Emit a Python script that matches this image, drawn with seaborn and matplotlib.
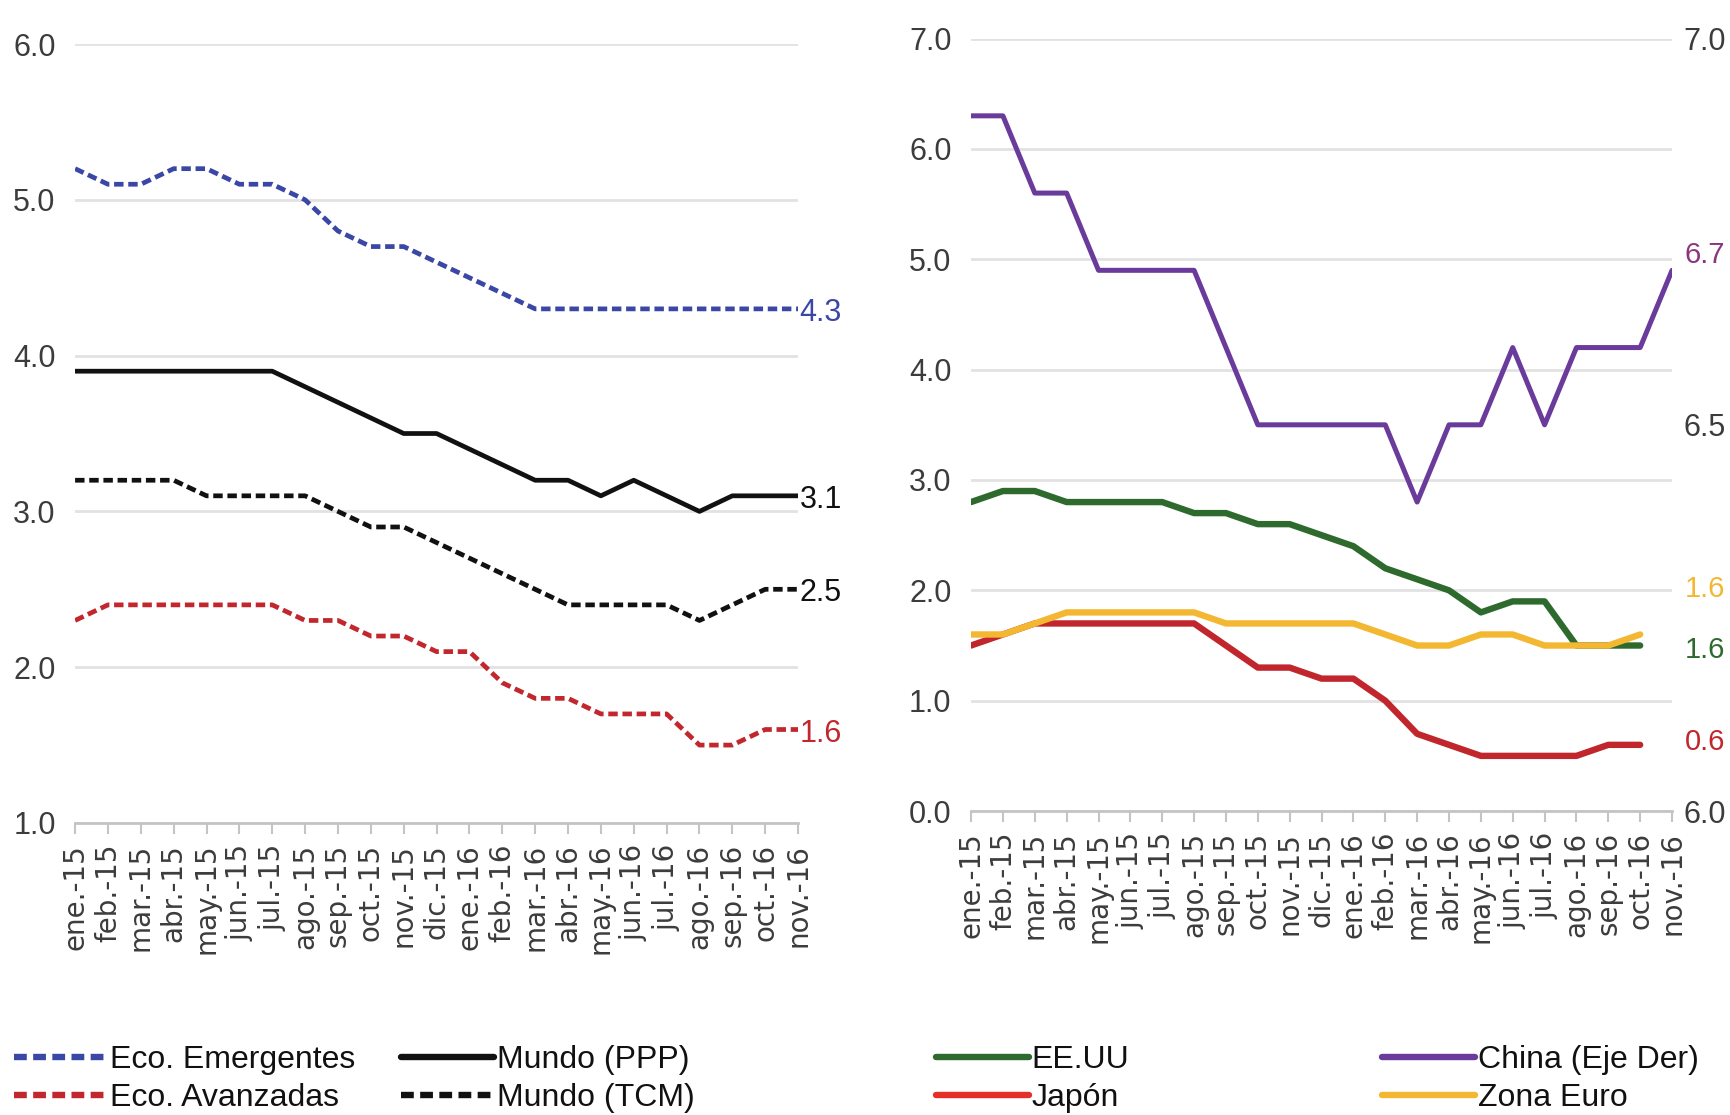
import numpy as np
import matplotlib
matplotlib.use("Agg")
import matplotlib.pyplot as plt
import seaborn as sns
from matplotlib.lines import Line2D

# -------------------- Data --------------------

months = ["ene.-15", "feb.-15", "mar.-15", "abr.-15", "may.-15", "jun.-15",
          "jul.-15", "ago.-15", "sep.-15", "oct.-15", "nov.-15", "dic.-15",
          "ene.-16", "feb.-16", "mar.-16", "abr.-16", "may.-16", "jun.-16",
          "jul.-16", "ago.-16", "sep.-16", "oct.-16", "nov.-16"]

# left panel (23 months)
eco_emergentes = [5.2, 5.1, 5.1, 5.2, 5.2, 5.1, 5.1, 5.0, 4.8, 4.7, 4.7, 4.6,
                  4.5, 4.4, 4.3, 4.3, 4.3, 4.3, 4.3, 4.3, 4.3, 4.3, 4.3]
mundo_ppp = [3.9, 3.9, 3.9, 3.9, 3.9, 3.9, 3.9, 3.8, 3.7, 3.6, 3.5, 3.5,
             3.4, 3.3, 3.2, 3.2, 3.1, 3.2, 3.1, 3.0, 3.1, 3.1, 3.1]
mundo_tcm = [3.2, 3.2, 3.2, 3.2, 3.1, 3.1, 3.1, 3.1, 3.0, 2.9, 2.9, 2.8,
             2.7, 2.6, 2.5, 2.4, 2.4, 2.4, 2.4, 2.3, 2.4, 2.5, 2.5]
eco_avanzadas = [2.3, 2.4, 2.4, 2.4, 2.4, 2.4, 2.4, 2.3, 2.3, 2.2, 2.2, 2.1,
                 2.1, 1.9, 1.8, 1.8, 1.7, 1.7, 1.7, 1.5, 1.5, 1.6, 1.6]

# right panel (EE.UU, Japon, Zona Euro end in oct.-16)
eeuu = [2.8, 2.9, 2.9, 2.8, 2.8, 2.8, 2.8, 2.7, 2.7, 2.6, 2.6, 2.5,
        2.4, 2.2, 2.1, 2.0, 1.8, 1.9, 1.9, 1.5, 1.5, 1.5]
japon = [1.5, 1.6, 1.7, 1.7, 1.7, 1.7, 1.7, 1.7, 1.5, 1.3, 1.3, 1.2,
         1.2, 1.0, 0.7, 0.6, 0.5, 0.5, 0.5, 0.5, 0.6, 0.6]
zona_euro = [1.6, 1.6, 1.7, 1.8, 1.8, 1.8, 1.8, 1.8, 1.7, 1.7, 1.7, 1.7,
             1.7, 1.6, 1.5, 1.5, 1.6, 1.6, 1.5, 1.5, 1.5, 1.6]
# China on the right-hand axis
china = [6.9, 6.9, 6.8, 6.8, 6.7, 6.7, 6.7, 6.7, 6.6, 6.5, 6.5, 6.5,
         6.5, 6.5, 6.4, 6.5, 6.5, 6.6, 6.5, 6.6, 6.6, 6.6, 6.7]

left_end_labels = ["4.3", "3.1", "2.5", "1.6"]
right_end_labels = ["6.7", "1.6", "1.6", "0.6"]

# -------------------- Style --------------------

BLUE = "#3a47a5"
RED_D = "#c1272d"
BLACK = "#111111"
GREEN = "#2e6a2d"
RED = "#c0262b"
YELLOW = "#f4b731"
PURPLE = "#6b3b9c"
PURPLE_TXT = "#8a357f"
TICK_C = "#3c3c3c"
GRID_C = "#e2e2e2"

REGULAR = ["Liberation Sans", "DejaVu Sans"]
DASH = (0, (2.0, 1.0))

sns.set_theme(style="white")
plt.rcParams["font.family"] = REGULAR


def style_axis(ax, ymin, ymax):
    ax.set_xlim(0, len(months) - 1)
    ax.set_ylim(ymin, ymax)
    ticks = np.arange(ymin, ymax + 0.01, 1.0)
    ax.set_yticks(ticks)
    ax.set_yticklabels([f"{v:.1f}" for v in ticks],
                       fontsize=22, color=TICK_C, family=REGULAR)
    ax.set_xticks(range(len(months)))
    ax.set_xticklabels(months, rotation=90, fontsize=20, color=TICK_C,
                       family=["DejaVu Sans"])
    ax.grid(axis="y", color=GRID_C, lw=2)
    ax.grid(axis="x", visible=False)
    for s in ["top", "right", "left"]:
        ax.spines[s].set_visible(False)
    ax.spines["bottom"].set_color("#c4c4c4")
    ax.spines["bottom"].set_linewidth(2)
    ax.tick_params(axis="x", bottom=True, length=8, width=1.5,
                   color="#c4c4c4", pad=7)
    ax.tick_params(axis="y", left=False, right=False, length=0, pad=14)
    ax.set_xlabel("")
    ax.set_ylabel("")


fig = plt.figure(figsize=(17.3, 11.15), dpi=100)
ax_l = fig.add_axes([0.0434, 0.2619, 0.4179, 0.6986])
ax_r = fig.add_axes([0.5613, 0.2726, 0.4052, 0.6928])

# -------------------- Left panel --------------------

x23 = np.arange(len(months))
left_series = [
    (eco_emergentes, BLUE, DASH),
    (mundo_ppp, BLACK, "-"),
    (mundo_tcm, BLACK, DASH),
    (eco_avanzadas, RED_D, DASH),
]
for vals, col, ls in left_series:
    sns.lineplot(x=x23, y=vals, ax=ax_l, color=col, lw=3.4,
                 linestyle=ls, legend=False)
style_axis(ax_l, 1.0, 6.0)

for (vals, col, _), lab in zip(left_series, left_end_labels):
    ax_l.annotate(lab, xy=(x23[-1], vals[-1]), xytext=(1, -3),
                  textcoords="offset points", ha="left", va="center",
                  fontsize=22, color=col, family=REGULAR,
                  annotation_clip=False)

# -------------------- Right panel --------------------

x22 = np.arange(len(eeuu))
sns.lineplot(x=x22, y=eeuu, ax=ax_r, color=GREEN, lw=4.6, legend=False)
sns.lineplot(x=x22, y=japon, ax=ax_r, color=RED, lw=4.6, legend=False)
sns.lineplot(x=x22, y=zona_euro, ax=ax_r, color=YELLOW, lw=4.6, legend=False)

ax_c = ax_r.twinx()
sns.lineplot(x=x23, y=china, ax=ax_c, color=PURPLE, lw=3.6, legend=False)
style_axis(ax_r, 0.0, 7.0)

ax_c.set_ylim(6.0, 7.0)
ax_c.set_yticks([6.0, 6.5, 7.0])
ax_c.set_yticklabels(["6.0", "6.5", "7.0"], fontsize=22, color=TICK_C,
                     family=REGULAR)
ax_c.tick_params(axis="y", left=False, right=False, length=0, pad=8)
ax_c.grid(False)
ax_c.set_ylabel("")
for s in ax_c.spines.values():
    s.set_visible(False)

# end labels right of the right-hand axis
right_end = [(ax_c, china[-1], PURPLE_TXT, 11),
             (ax_r, zona_euro[-1], YELLOW, 33),
             (ax_r, eeuu[-1], GREEN, -3),
             (ax_r, japon[-1], RED, 2)]
for (ax, val, col, dy), lab in zip(right_end, right_end_labels):
    ax.annotate(lab, xy=(1.0, val), xycoords=("axes fraction", "data"),
                xytext=(9, dy), textcoords="offset points",
                ha="left", va="center", fontsize=21, color=col,
                family=REGULAR, annotation_clip=False)

# -------------------- Legends --------------------


def add_legend(x, items):
    handles = [Line2D([], [], color=c, lw=4.6, linestyle=ls) for _, c, ls in items]
    labels = [t for t, _, _ in items]
    leg = fig.legend(handles, labels, loc="center left",
                     bbox_to_anchor=(x, 0.032), frameon=False,
                     prop={"family": REGULAR, "size": 23},
                     handlelength=2.9, handletextpad=0.1, labelspacing=0.25,
                     borderpad=0, borderaxespad=0)
    for t in leg.get_texts():
        t.set_color("#111111")


add_legend(0.008, [("Eco. Emergentes", BLUE, DASH),
                   ("Eco. Avanzadas", RED_D, DASH)])
add_legend(0.232, [("Mundo (PPP)", BLACK, "-"),
                   ("Mundo (TCM)", BLACK, DASH)])
add_legend(0.541, [("EE.UU", GREEN, "-"),
                   ("Japón", "#e5302a", "-")])
add_legend(0.799, [("China (Eje Der)", PURPLE, "-"),
                   ("Zona Euro", YELLOW, "-")])

fig.savefig("out.png", dpi=100)
